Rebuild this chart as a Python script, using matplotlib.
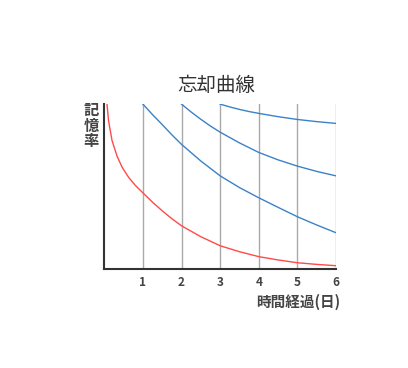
import matplotlib.pyplot as plt

plt.rcParams['font.family'] = ['Noto Sans CJK JP', 'DejaVu Sans']

# values (days, retention 0..1)
red_t = [0.07, 0.11, 0.2, 0.33, 0.46, 0.63, 0.8, 1.0, 1.25, 1.5, 1.75, 2.0, 2.5,
         3.0, 3.5, 4.0, 4.5, 5.0, 5.5, 6.0]
red_v = [1.0, 0.90, 0.78, 0.685, 0.618, 0.556, 0.508, 0.462, 0.405, 0.353, 0.305, 0.262, 0.196,
         0.141, 0.105, 0.075, 0.055, 0.038, 0.028, 0.02]

blue1_t = [1.0, 1.25, 1.5, 1.75, 2.0, 2.5, 3.0, 3.5, 4.0, 4.5, 5.0, 5.5, 6.0]
blue1_v = [1.0, 0.936, 0.876, 0.814, 0.756, 0.655, 0.565, 0.494, 0.432, 0.374, 0.317, 0.267, 0.22]

blue2_t = [2.0, 2.25, 2.5, 2.75, 3.0, 3.5, 4.0, 4.5, 5.0, 5.5, 6.0]
blue2_v = [1.0, 0.952, 0.908, 0.867, 0.83, 0.765, 0.707, 0.662, 0.624, 0.592, 0.565]

blue3_t = [3.0, 3.25, 3.5, 3.75, 4.0, 4.5, 5.0, 5.5, 6.0]
blue3_v = [1.0, 0.983, 0.968, 0.955, 0.944, 0.924, 0.907, 0.894, 0.883]

days = [1, 2, 3, 4, 5, 6]
day_labels = ['1', '2', '3', '4', '5', '6']

fig = plt.figure(figsize=(4.08, 3.68), dpi=100)
ax = fig.add_axes([0.2556, 0.269, 0.568, 0.448])

for d in days:
    ax.axvline(d, color='#aaaaaa', lw=1.0, zorder=1)

blue = '#3b82c8'
ax.plot(red_t, red_v, color='#ff4a4a', lw=1.0, zorder=3)
ax.plot(blue1_t, blue1_v, color=blue, lw=1.0, zorder=3)
ax.plot(blue2_t, blue2_v, color=blue, lw=1.0, zorder=3)
ax.plot(blue3_t, blue3_v, color=blue, lw=1.0, zorder=3)

ax.set_xlim(0, 6)
ax.set_ylim(0, 1)
ax.spines['top'].set_visible(False)
ax.spines['right'].set_visible(False)
for s in ['left', 'bottom']:
    ax.spines[s].set_color('#333333')
    ax.spines[s].set_linewidth(1.5)

ax.set_yticks([])
ax.set_xticks(days)
ax.set_xticklabels(day_labels, fontsize=8.5, fontweight='bold', color='#444444')
ax.tick_params(axis='x', length=0, pad=5)

fig.text(0.529, 0.768, '忘却曲線', ha='center', va='center', fontsize=14, color='#333333')
fig.text(0.223, 0.722, '記\n憶\n率', ha='center', va='top', fontsize=11,
         fontweight='bold', color='#444444', linespacing=0.95)
fig.text(0.834, 0.18, '時間経過(日)', ha='right', va='center', fontsize=10.5,
         fontweight='bold', color='#444444')

fig.savefig('out.png', dpi=100)
